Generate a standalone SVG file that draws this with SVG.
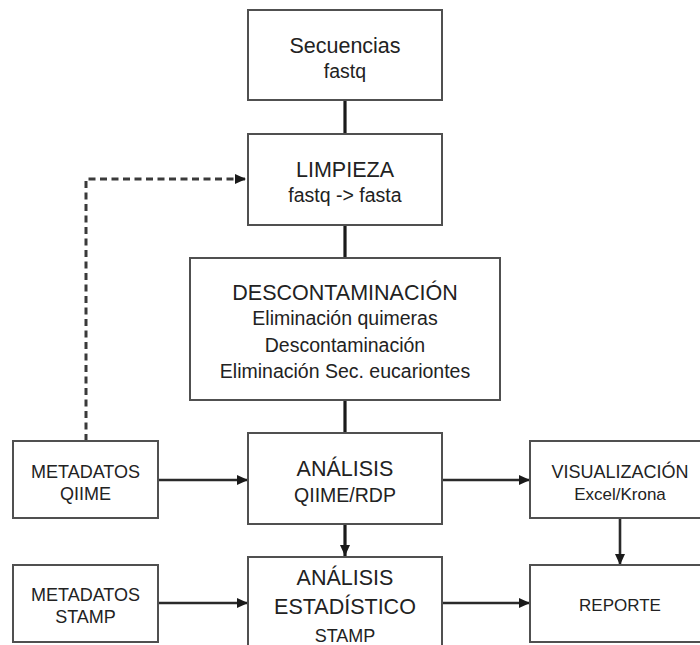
<svg xmlns="http://www.w3.org/2000/svg" width="700" height="645" viewBox="0 0 700 645">
<style>
.box{fill:#ffffff;stroke:#505050;stroke-width:2}
text{font-family:"Liberation Sans",Arial,sans-serif;fill:#222;text-anchor:middle}
.t{font-size:21.5px}
.s{font-size:19.5px}
.m{font-size:18px}
.n{font-size:17px}
.ln{fill:none;stroke:#1a1a1a;stroke-width:3.2}
.ar{fill:none;stroke:#2a2a2a;stroke-width:2.6}
.dash{fill:none;stroke:#3a3a3a;stroke-width:3;stroke-dasharray:7 4.5}
</style>
<defs>
<marker id="ah" markerUnits="userSpaceOnUse" markerWidth="13" markerHeight="13" viewBox="0 0 13 13" refX="12" refY="6.5" orient="auto">
<path d="M1,1.5 L12,6.5 L1,11.5 Z" fill="#1a1a1a"/>
</marker>
</defs>
<rect width="700" height="645" fill="#ffffff"/>
<g id="connectors">
<line class="ln" x1="345" y1="100" x2="345" y2="134"/>
<line class="ln" x1="345" y1="225" x2="345" y2="258"/>
<line class="ln" x1="345" y1="400" x2="345" y2="433"/>
<line class="ln" x1="345" y1="524" x2="345" y2="556" marker-end="url(#ah)"/>
<line class="ar" x1="158" y1="480" x2="248" y2="480" marker-end="url(#ah)"/>
<line class="ar" x1="158" y1="603" x2="248" y2="603" marker-end="url(#ah)"/>
<line class="ar" x1="442" y1="480" x2="530" y2="480" marker-end="url(#ah)"/>
<line class="ar" x1="442" y1="603" x2="530" y2="603" marker-end="url(#ah)"/>
<line class="ar" x1="620" y1="518" x2="620" y2="565" stroke-width="2.2" marker-end="url(#ah)"/>
<path class="dash" d="M86,441 V179 H246" marker-end="url(#ah)"/>
</g>
<g id="secuencias">
<rect class="box" x="248" y="10" width="194" height="90"/>
<text class="t" x="345" y="53">Secuencias</text>
<text class="s" x="345" y="78">fastq</text>
</g>
<g id="limpieza">
<rect class="box" x="248" y="134" width="194" height="91"/>
<text class="t" x="345" y="177">LIMPIEZA</text>
<text class="s" x="345" y="202">fastq -&gt; fasta</text>
</g>
<g id="descontaminacion">
<rect class="box" x="190" y="258" width="310" height="142"/>
<text class="t" x="345" y="300">DESCONTAMINACIÓN</text>
<text class="s" x="345" y="325">Eliminación quimeras</text>
<text class="s" x="345" y="352">Descontaminación</text>
<text class="s" x="345" y="378">Eliminación Sec. eucariontes</text>
</g>
<g id="analisis">
<rect class="box" x="248" y="433" width="194" height="91"/>
<text class="t" x="345" y="476">ANÁLISIS</text>
<text class="s" x="345" y="502">QIIME/RDP</text>
</g>
<g id="estadistico">
<rect class="box" x="248" y="557" width="194" height="100"/>
<text class="t" x="345" y="585">ANÁLISIS</text>
<text class="t" x="345" y="614">ESTADÍSTICO</text>
<text class="m" x="345" y="642">STAMP</text>
</g>
<g id="metadatos-qiime">
<rect class="box" x="13" y="441" width="145" height="77"/>
<text class="m" x="85.5" y="478">METADATOS</text>
<text class="m" x="85.5" y="500">QIIME</text>
</g>
<g id="metadatos-stamp">
<rect class="box" x="13" y="565" width="145" height="77"/>
<text class="m" x="85.5" y="601">METADATOS</text>
<text class="m" x="85.5" y="623">STAMP</text>
</g>
<g id="visualizacion">
<rect class="box" x="530" y="441" width="180" height="77"/>
<text class="m" x="620" y="478">VISUALIZACIÓN</text>
<text class="n" x="620" y="500">Excel/Krona</text>
</g>
<g id="reporte">
<rect class="box" x="530" y="565" width="180" height="77"/>
<text class="n" x="620" y="611">REPORTE</text>
</g>
</svg>
